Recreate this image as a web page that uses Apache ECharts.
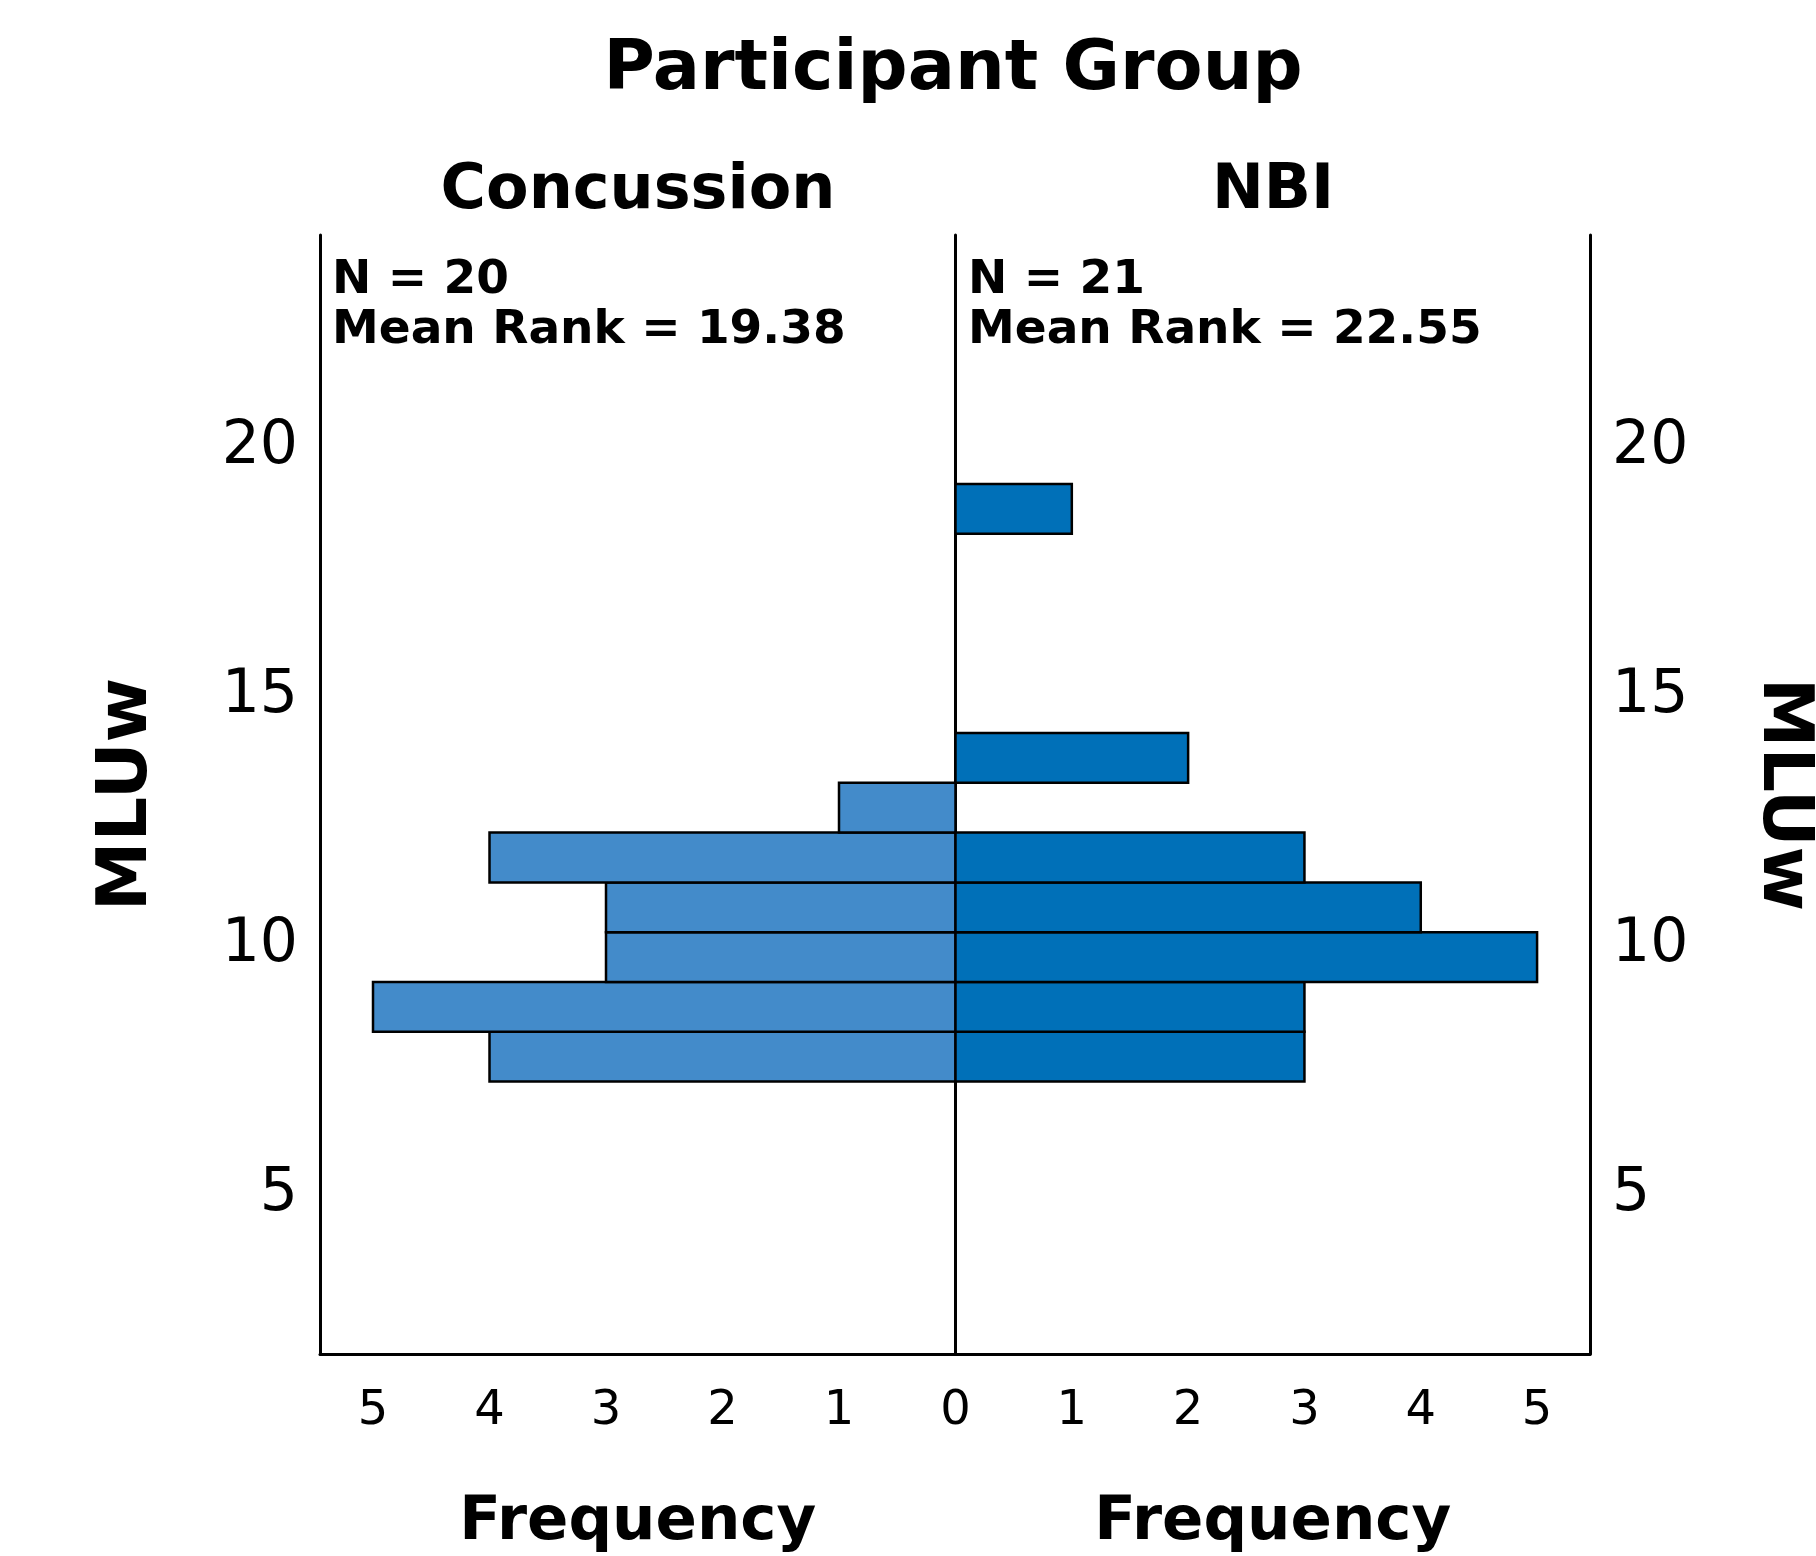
<!DOCTYPE html>
<html>
<head>
<meta charset="utf-8">
<script src="https://cdn.jsdelivr.net/npm/echarts@6/dist/echarts.min.js"></script>
<style>
  html, body { margin: 0; padding: 0; background: #fff; }
  #chart { width: 1816px; height: 1556px; }
</style>
</head>
<body>
<div id="chart"></div>
<script>
  // MLUw histogram bins (lower edge, width 1)
  const binStart = [7.15, 8.15, 9.15, 10.15, 11.15, 12.15, 13.15, 14.15, 15.15, 16.15, 17.15, 18.15];
  const binWidth = 1;
  const concussion = [4, 5, 3, 3, 4, 1, 0, 0, 0, 0, 0, 0];
  const nbi = [3, 3, 5, 4, 3, 0, 2, 0, 0, 0, 0, 1];

  const groups = ['Concussion', 'NBI'];
  const groupN = ['N = 20', 'N = 21'];
  const meanRank = ['Mean Rank = 19.38', 'Mean Rank = 22.55'];
  const yTicks = [5, 10, 15, 20];
  const leftTicks = [0, 1, 2, 3, 4, 5];
  const rightTicks = [1, 2, 3, 4, 5];

  const FONT = 'DejaVu Sans';
  const yMin = 1.68, yMax = 24.15;
  const xMax = 5.455;

  function toBins(counts) {
    let out = [];
    counts.forEach((c, i) => {
      if (c > 0) out.push([binStart[i], binStart[i] + binWidth, c]);
    });
    return out;
  }

  function barRenderer(color) {
    return function (params, api) {
      let p0 = api.coord([0, api.value(0)]);
      let p1 = api.coord([api.value(2), api.value(1)]);
      return {
        type: 'rect',
        shape: {
          x: Math.min(p0[0], p1[0]),
          y: Math.min(p0[1], p1[1]),
          width: Math.abs(p1[0] - p0[0]),
          height: Math.abs(p1[1] - p0[1])
        },
        style: { fill: color, stroke: '#000', lineWidth: 2.5 }
      };
    };
  }

  const axisLine = { show: true, onZero: false, lineStyle: { color: '#000', width: 3 } };

  function xAxisFor(idx, inverse, ticks) {
    return {
      gridIndex: idx, type: 'value', inverse: inverse,
      min: 0, max: xMax, interval: 1,
      axisLine: axisLine, axisTick: { show: false }, splitLine: { show: false },
      axisLabel: {
        customValues: ticks, color: '#000', fontFamily: FONT, fontSize: 48, margin: 34,
        formatter: v => (ticks.indexOf(v) >= 0 ? String(v) : '')
      },
      name: 'Frequency', nameLocation: 'middle', nameGap: 139,
      nameTextStyle: { color: '#000', fontFamily: FONT, fontWeight: 'bold', fontSize: 61 }
    };
  }

  function yAxisFor(idx, position, withLabels) {
    return {
      gridIndex: idx, type: 'value', position: position,
      min: yMin, max: yMax,
      axisLine: axisLine, axisTick: { show: false }, splitLine: { show: false },
      axisLabel: {
        show: withLabels, customValues: yTicks, color: '#000', fontFamily: FONT, fontSize: 60, margin: 22,
        formatter: v => (yTicks.indexOf(v) >= 0 ? '{v|' + v + '}' : ''),
        rich: { v: { fontFamily: FONT, fontSize: 60, color: '#000', padding: [12, 0, 0, 0] } }
      },
      name: withLabels ? 'MLUw' : '', nameLocation: 'middle', nameGap: 157,
      nameRotate: position === 'left' ? 90 : -90,
      nameTextStyle: { color: '#000', fontFamily: FONT, fontWeight: 'bold', fontSize: 70 }
    };
  }

  function label(text, x, y, size, align) {
    return {
      type: 'text', x: x, y: y,
      style: { text: text, fill: '#000', font: 'bold ' + size + 'px "' + FONT + '"', align: align, verticalAlign: 'middle' }
    };
  }

  const chart = echarts.init(document.getElementById('chart'));
  chart.setOption({
    animation: false,
    backgroundColor: '#fff',
    grid: [
      { left: 320, top: 235, width: 635.5, height: 1119, outerBoundsMode: 'none' },
      { left: 955.5, top: 235, width: 634.5, height: 1119, outerBoundsMode: 'none' }
    ],
    xAxis: [xAxisFor(0, true, leftTicks), xAxisFor(1, false, rightTicks)],
    yAxis: [yAxisFor(0, 'left', true), yAxisFor(1, 'right', true), yAxisFor(1, 'left', false)],
    series: [
      {
        name: groups[0], type: 'custom', xAxisIndex: 0, yAxisIndex: 0,
        renderItem: barRenderer('#438BCA'), data: toBins(concussion), z: 3
      },
      {
        name: groups[1], type: 'custom', xAxisIndex: 1, yAxisIndex: 1,
        renderItem: barRenderer('#0070B8'), data: toBins(nbi), z: 3
      }
    ],
    graphic: [
      label('Participant Group', 953, 71, 70, 'center'),
      label(groups[0], 638, 192, 62, 'center'),
      label(groups[1], 1273, 192, 62, 'center'),
      label(groupN[0], 332, 281, 47, 'left'),
      label(meanRank[0], 332, 331, 47, 'left'),
      label(groupN[1], 968, 281, 47, 'left'),
      label(meanRank[1], 968, 331, 47, 'left')
    ]
  });
</script>
</body>
</html>
